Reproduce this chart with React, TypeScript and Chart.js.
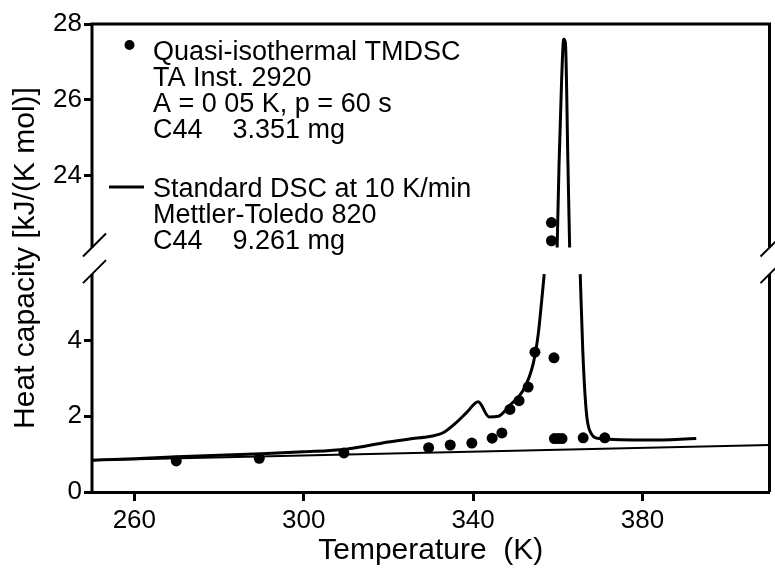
import React, { useEffect, useRef } from 'react';
import { Chart, LinearScale, registerables } from 'chart.js';

Chart.register(...registerables);

// ---------- data ----------
const X_TICKS = [260, 300, 340, 380];
const Y_TICKS = [0, 2, 4, 24, 26, 28];
const X_MIN = 250;
const X_MAX = 410;
const Y_MIN = 0;
const Y_MAX = 28;
const LOW_MAX = 5.75; // top of the lower panel
const HIGH_MIN = 22.1; // bottom of the upper panel
const GAP_UNITS = 0.7; // height of the break, in value units

const TMDSC_T = [269.9, 289.5, 309.5, 329.5, 334.6, 339.7, 344.5, 346.8, 348.7, 350.85, 353.0, 354.6, 358.5, 358.5, 359.1, 359.2, 360.1, 361.0, 366.0, 371.1];
const TMDSC_CP = [0.82, 0.89, 1.03, 1.17, 1.24, 1.29, 1.42, 1.56, 2.18, 2.41, 2.77, 3.69, 22.28, 22.76, 3.54, 1.41, 1.41, 1.41, 1.43, 1.43];

const DSC_T = [250, 255, 260, 270, 280, 290, 300, 310, 315, 320, 325, 330, 333, 336, 338.5, 341.2, 343.8, 346, 348.7, 351.8, 354.2, 355.4, 356.2, 356.8, 358.3, 359.85, 360.3, 360.9, 361.4, 361.8, 362.4, 362.8, 364, 365.3, 365.9, 366.7, 367.5, 369.9, 381.6, 392.7];
const DSC_CP: (number | null)[] = [0.84, 0.86, 0.88, 0.93, 0.97, 1.01, 1.06, 1.13, 1.22, 1.32, 1.40, 1.47, 1.57, 1.83, 2.10, 2.38, 1.98, 2.00, 2.29, 2.68, 3.39, 4.18, 5.05, 5.75, null, 22.1, 24.3, 26.5, 27.6, 27.5, 24.3, 22.1, null, 5.75, 3.74, 2.16, 1.63, 1.41, 1.37, 1.41];

const BASE_T = [250, 410];
const BASE_CP = [0.84, 1.24];

const LEGEND_DOTS = ['Quasi-isothermal TMDSC', 'TA Inst. 2920', 'A = 0 05 K, p = 60 s', 'C44    3.351 mg'];
const LEGEND_LINE = ['Standard DSC at 10 K/min', 'Mettler-Toledo 820', 'C44    9.261 mg'];

const X_TITLE = 'Temperature  (K)';
const Y_TITLE = 'Heat capacity [kJ/(K mol)]';

const FONT = '"Liberation Sans", Arial, sans-serif';

// ---------- broken scale ----------
const TOTAL_UNITS = LOW_MAX - Y_MIN + GAP_UNITS + (Y_MAX - HIGH_MIN);

function toUnits(v: number): number {
  if (v <= LOW_MAX) return v - Y_MIN;
  if (v >= HIGH_MIN) return LOW_MAX - Y_MIN + GAP_UNITS + (v - HIGH_MIN);
  return LOW_MAX - Y_MIN + (GAP_UNITS * (v - LOW_MAX)) / (HIGH_MIN - LOW_MAX);
}
function fromUnits(u: number): number {
  const lowSpan = LOW_MAX - Y_MIN;
  if (u <= lowSpan) return u + Y_MIN;
  if (u >= lowSpan + GAP_UNITS) return u - lowSpan - GAP_UNITS + HIGH_MIN;
  return LOW_MAX + ((u - lowSpan) / GAP_UNITS) * (HIGH_MIN - LOW_MAX);
}

class BrokenScale extends LinearScale {
  static id = 'broken';
  static defaults = LinearScale.defaults;

  buildTicks() {
    (this as any).start = this.min;
    (this as any).end = this.max;
    return Y_TICKS.map((value) => ({ value }));
  }
  getPixelForValue(value: number) {
    if (value === null || value === undefined || isNaN(value)) return NaN;
    return this.getPixelForDecimal(toUnits(value) / TOTAL_UNITS);
  }
  getValueForPixel(pixel: number) {
    return fromUnits(this.getDecimalForPixel(pixel) * TOTAL_UNITS);
  }
}
Chart.register(BrokenScale as any);

// ---------- plugins ----------
const framePlugin = {
  id: 'brokenFrame',
  afterDraw(chart: any) {
    const { ctx, chartArea } = chart;
    const { left, right, top, bottom } = chartArea;
    const y = chart.scales.y;
    const yLow = y.getPixelForValue(LOW_MAX);
    const yHigh = y.getPixelForValue(HIGH_MIN);
    ctx.save();
    ctx.strokeStyle = '#000';
    ctx.lineWidth = 3;
    ctx.beginPath();
    ctx.moveTo(left - 1.5, top);
    ctx.lineTo(right + 1.5, top);
    for (const x of [left, right]) {
      ctx.moveTo(x, top);
      ctx.lineTo(x, yHigh);
      ctx.moveTo(x, yLow);
      ctx.lineTo(x, bottom);
    }
    ctx.stroke();
    ctx.lineWidth = 2;
    ctx.beginPath();
    for (const x of [left, right]) {
      for (const yy of [yHigh, yLow]) {
        ctx.moveTo(x - 9, yy + 9);
        ctx.lineTo(x + 14, yy - 14);
      }
    }
    ctx.stroke();

    // legend
    ctx.fillStyle = '#000';
    ctx.font = `27px ${FONT}`;
    ctx.textBaseline = 'alphabetic';
    ctx.textAlign = 'left';
    const tx = left + 61;
    LEGEND_DOTS.forEach((t, i) => ctx.fillText(t, tx, top + 36 + i * 26));
    LEGEND_LINE.forEach((t, i) => ctx.fillText(t, tx, top + 173 + i * 26));
    ctx.beginPath();
    ctx.arc(left + 37.5, top + 21, 5, 0, Math.PI * 2);
    ctx.fill();
    ctx.lineWidth = 3;
    ctx.beginPath();
    ctx.moveTo(left + 17, top + 163);
    ctx.lineTo(left + 52, top + 163);
    ctx.stroke();
    ctx.restore();
  },
};

export default function App() {
  const ref = useRef<HTMLCanvasElement>(null);
  useEffect(() => {
    if (!ref.current) return;
    const chart = new Chart(ref.current, {
      type: 'line',
      data: {
        datasets: [
          {
            label: 'Quasi-isothermal TMDSC',
            data: TMDSC_T.map((t, i) => ({ x: t, y: TMDSC_CP[i] })),
            showLine: false,
            pointRadius: 5.5,
            pointHoverRadius: 5.5,
            pointBackgroundColor: '#000',
            pointBorderWidth: 0,
            borderColor: '#000',
          },
          {
            label: 'Standard DSC at 10 K/min',
            data: DSC_T.map((t, i) => ({ x: t, y: DSC_CP[i] })),
            borderColor: '#000',
            borderWidth: 3,
            pointRadius: 0,
            spanGaps: false,
            cubicInterpolationMode: 'monotone',
          },
          {
            label: 'baseline',
            data: BASE_T.map((t, i) => ({ x: t, y: BASE_CP[i] })),
            borderColor: '#000',
            borderWidth: 2,
            pointRadius: 0,
          },
        ],
      },
      options: {
        responsive: false,
        animation: false,
        events: [],
        layout: { padding: { top: 24, right: 5, left: 0, bottom: 0 } },
        plugins: { legend: { display: false }, tooltip: { enabled: false } },
        scales: {
          x: {
            type: 'linear',
            min: X_MIN,
            max: X_MAX,
            afterBuildTicks: (s: any) => {
              s.ticks = X_TICKS.map((value) => ({ value }));
            },
            afterFit: (s: any) => {
              s.height = 77;
            },
            border: { display: true, color: '#000', width: 3 },
            grid: { drawOnChartArea: false, drawTicks: true, tickLength: 9, tickWidth: 3, tickColor: '#000', color: '#000' },
            ticks: { font: { family: FONT, size: 26 }, color: '#000', padding: 4, maxRotation: 0, autoSkip: false, callback: (v: any) => String(v) },
            title: { display: true, text: X_TITLE, font: { family: FONT, size: 30 }, color: '#000', padding: { top: 0, bottom: 0 } },
          },
          y: {
            type: 'broken' as any,
            min: Y_MIN,
            max: Y_MAX,
            afterFit: (s: any) => {
              s.width = 92;
            },
            border: { display: false },
            grid: { drawOnChartArea: false, drawTicks: true, tickLength: 8, tickWidth: 3, tickColor: '#000', color: '#000' },
            ticks: { font: { family: FONT, size: 26 }, color: '#000', padding: 2, callback: (v: any) => String(v) },
            title: { display: true, text: Y_TITLE, font: { family: FONT, size: 30 }, color: '#000', padding: { top: 8, bottom: 0 } },
          },
        },
      } as any,
      plugins: [framePlugin],
    });
    return () => chart.destroy();
  }, []);

  return (
    <div style={{ position: 'fixed', left: 0, top: 0, width: 775, height: 569, background: '#fff' }}>
      <canvas ref={ref} width={775} height={569} style={{ display: 'block' }} />
    </div>
  );
}
